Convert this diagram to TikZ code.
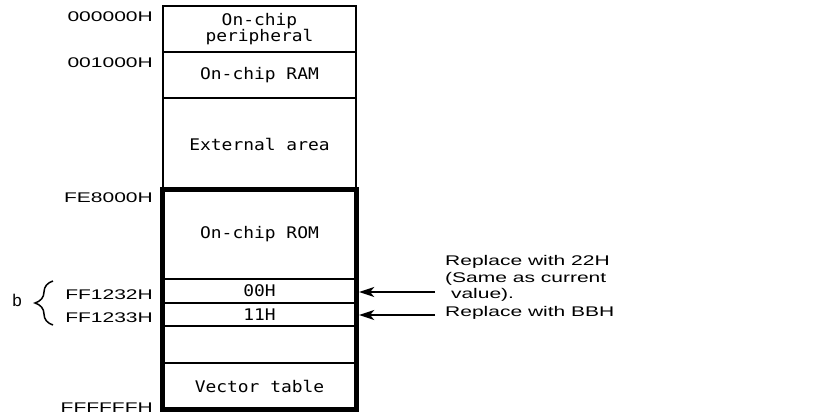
\documentclass[tikz,border=0pt]{standalone}
\usepackage{graphicx}
\usepackage{fontspec}
\setmainfont{Liberation Sans}
\newfontfamily\cellfont{DejaVu Sans Mono}
\usetikzlibrary{arrows.meta,decorations.pathreplacing}
\newcommand{\widetxt}[1]{\scalebox{1.5}[1]{#1}}
\newcommand{\celltxt}[1]{\scalebox{1.12}[1]{#1}}
\begin{document}
\begin{tikzpicture}[x=1pt,y=-1pt,
  cell/.style={draw, line width=1.4pt, minimum width=193pt, inner sep=0pt,
    font=\cellfont\fontsize{16}{17}\selectfont, align=center},
  addr/.style={anchor=east, inner sep=0pt, font=\fontsize{14}{16}\selectfont},
  note/.style={anchor=west, inner sep=0pt, align=left, font=\fontsize{14}{16.5}\selectfont},
  ptr/.style={-{Stealth[length=15pt,width=10pt,inset=4pt]}, line width=1.4pt},
  thick box/.style={line width=4.5pt}]
\useasboundingbox (0,0) rectangle (826,415);
% memory cells
\node[cell, minimum height=46pt] (peri) at (259.5,29) {\celltxt{On-chip}\\[-1pt]\celltxt{peripheral}};
\node[cell, minimum height=46pt] (ram) at (259.5,75) {\celltxt{On-chip RAM}};
\node[cell, minimum height=92pt] (ext) at (259.5,144) {\celltxt{External area}};
\node[cell, minimum height=89pt] (rom) at (259.5,234.5) {\celltxt{On-chip ROM}};
\node[cell, minimum height=24pt] (c00) at (259.5,291) {\celltxt{00H}};
\node[cell, minimum height=23pt] (c11) at (259.5,314.5) {\celltxt{11H}};
\node[cell, minimum height=37pt] (blank) at (259.5,344.5) {};
\node[cell, minimum height=46pt] (vec) at (259.5,386) {\celltxt{Vector table}};
\draw[thick box] (rom.north west) rectangle (vec.south east);
% addresses
\node[addr] (a0) at (153,17) {\widetxt{000000H}};
\node[addr] (a1) at (153,63) {\widetxt{001000H}};
\node[addr] (a2) at (153,198) {\widetxt{FE8000H}};
\node[addr] (a3) at (153,295) {\widetxt{FF1232H}};
\node[addr] (a4) at (153,318) {\widetxt{FF1233H}};
\node[addr] (a5) at (153,408) {\widetxt{FFFFFFH}};
% brace and b
\coordinate (bb) at (53,325);
\coordinate (bt) at (53,281);
\draw[decorate, decoration={brace, amplitude=18pt}, line width=1.5pt] (bb) -- (bt);
\node[inner sep=0pt, font=\fontsize{17}{17}\selectfont] (blab) at (17,300) {b};
% notes and arrows
\node[note] (n1) at (445,278.5) {\widetxt{Replace with 22H}\\\widetxt{(Same as current}\\\widetxt{\ value).}};
\node[note] (n2) at (445,313) {\widetxt{Replace with BBH}};
\coordinate (s1) at (435,292);
\coordinate (s2) at (435,315);
\draw[ptr] (s1) -- ([xshift=2.5pt]c00.east |- s1);
\draw[ptr] (s2) -- ([xshift=2.5pt]c11.east |- s2);
\end{tikzpicture}
\end{document}
